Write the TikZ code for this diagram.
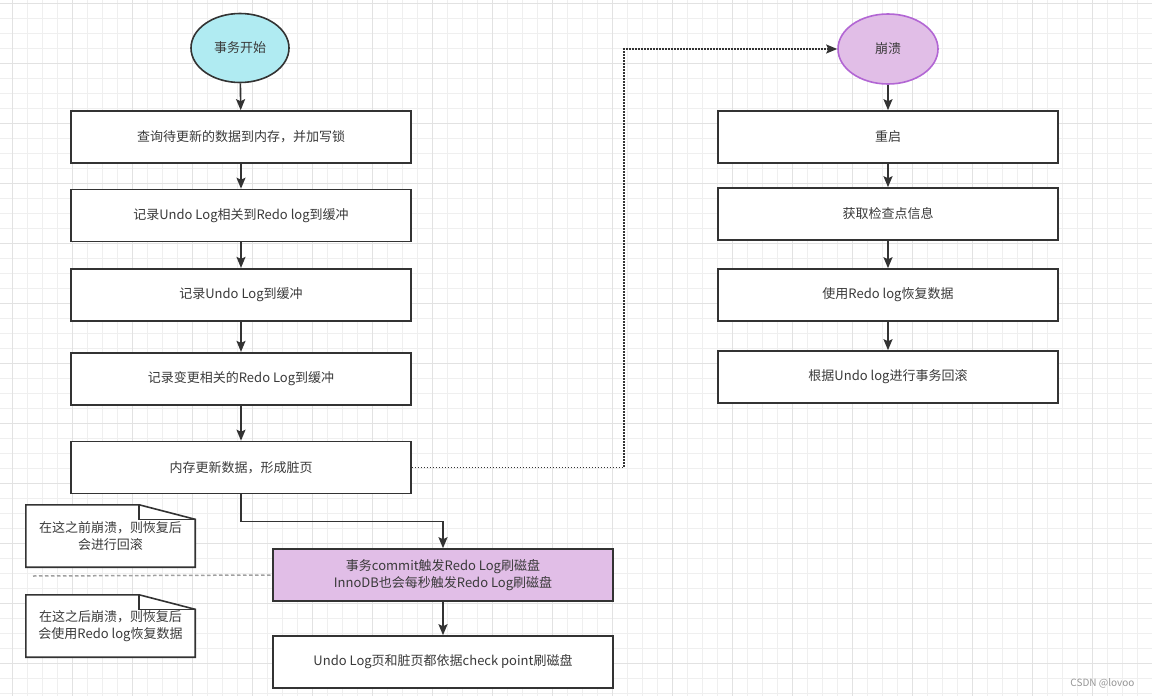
\documentclass[tikz,border=0pt]{standalone}
\usepackage{fontspec}
\setmainfont{Noto Sans CJK SC}
\usetikzlibrary{arrows.meta,shapes.geometric}
\definecolor{ln}{HTML}{333333}
\definecolor{txt}{HTML}{3A3A3A}
\definecolor{cyanfill}{HTML}{B0EBF2}
\definecolor{purfill}{HTML}{E1BEE7}
\definecolor{purline}{HTML}{B266D4}
\definecolor{gmin}{HTML}{EFEFEF}
\definecolor{gmaj}{HTML}{E2E2E2}
\newcommand{\fs}{\fontsize{13}{16.5}\selectfont}
\tikzset{
  stepbox/.style={draw=ln, line width=1.6pt, fill=white, minimum width=340pt, minimum height=52pt, inner sep=0pt, font=\fs, text=txt, align=center},
  startell/.style={ellipse, draw=ln, line width=1.6pt, fill=cyanfill, minimum width=98pt, minimum height=69pt, inner sep=0pt, font=\fs, text=txt},
  crashell/.style={ellipse, draw=purline, line width=1.6pt, fill=purfill, minimum width=100pt, minimum height=70pt, inner sep=0pt, font=\fs, text=txt},
  notebox/.style={minimum width=169pt, minimum height=62pt, inner sep=0pt, font=\fs, text=txt, align=center},
  arr/.style={draw=ln, line width=1.6pt, -{Stealth[length=11pt,width=9pt,inset=2pt]}},
  dotarr/.style={draw=ln, line width=1.6pt, dash pattern=on 1.5pt off 1.5pt, -{Stealth[length=11pt,width=9pt,inset=2pt]}},
  notepath/.style={draw=ln, line width=1.6pt, fill=white},
}
\begin{document}
\begin{tikzpicture}[x=1pt,y=-1pt]
\useasboundingbox (0,0) rectangle (1152,696);
\fill[white] (0,0) rectangle (1152,696);
% grid
\foreach \i in {0,...,77} {\draw[gmin, line width=0.8pt] ({-2.3+15*\i},0) -- ({-2.3+15*\i},696);}
\foreach \j in {0,...,46} {\draw[gmin, line width=0.8pt] (0,{3.3+15*\j}) -- (1152,{3.3+15*\j});}
\foreach \i in {0,...,19} {\draw[gmaj, line width=0.9pt] ({12.7+60*\i},0) -- ({12.7+60*\i},696);}
\foreach \j in {0,...,11} {\draw[gmaj, line width=0.9pt] (0,{3.3+60*\j}) -- (1152,{3.3+60*\j});}

% left column
\node[startell] (start) at (240,48) {事务开始};
\node[stepbox] (b1) at (241,137) {查询待更新的数据到内存，并加写锁};
\node[stepbox] (b2) at (241,215.5) {记录Undo Log相关到Redo log到缓冲};
\node[stepbox] (b3) at (241,294.7) {记录Undo Log到缓冲};
\node[stepbox] (b4) at (241,378.7) {记录变更相关的Redo Log到缓冲};
\node[stepbox] (b5) at (241,467.5) {内存更新数据，形成脏页};
\node[stepbox, fill=purfill] (b6) at (443,575) {事务commit触发Redo Log刷磁盘\\InnoDB也会每秒触发Redo Log刷磁盘};
\node[stepbox] (b7) at (443,662) {Undo Log页和脏页都依据check point刷磁盘};

% right column
\node[crashell] (crash) at (888,49) {崩溃};
\node[stepbox] (r1) at (888,137) {重启};
\node[stepbox] (r2) at (888,214) {获取检查点信息};
\node[stepbox] (r3) at (888,295) {使用Redo log恢复数据};
\node[stepbox] (r4) at (888,377) {根据Undo log进行事务回滚};

% notes
\node[notebox] (n1) at (110.5,536) {};
\node[notebox] (n2) at (110.5,626) {};
\path[notepath] (n1.south west) -- (n1.north west) -- ([xshift=-56pt]n1.north east) -- ([yshift=-14.5pt]n1.north east) -- (n1.south east) -- cycle;
\draw[ln, line width=1.6pt] ([xshift=-56pt]n1.north east) |- ([yshift=-14.5pt]n1.north east);
\node[notebox] (n1t) at (n1) {在这之前崩溃，则恢复后\\会进行回滚};
\path[notepath] (n2.south west) -- (n2.north west) -- ([xshift=-56pt]n2.north east) -- ([yshift=-14.5pt]n2.north east) -- (n2.south east) -- cycle;
\draw[ln, line width=1.6pt] ([xshift=-56pt]n2.north east) |- ([yshift=-14.5pt]n2.north east);
\node[notebox] (n2t) at (n2) {在这之后崩溃，则恢复后\\会使用Redo log恢复数据};

% dashed separator
\coordinate (dsep) at (33,576);
\draw[color={rgb,255:red,160;green,160;blue,160}, line width=1.5pt, dash pattern=on 3.5pt off 2.5pt] (dsep) -- (b6.west);

% connectors
\draw[arr] (start) -- (b1);
\draw[arr] (b1) -- (b2);
\draw[arr] (b2) -- (b3);
\draw[arr] (b3) -- (b4);
\draw[arr] (b4) -- (b5);
\draw[arr] (b5.south) -- ++(0,27) -| (b6.north);
\draw[arr] (b6) -- (b7);
\draw[arr] (crash) -- (r1);
\draw[arr] (r1) -- (r2);
\draw[arr] (r2) -- (r3);
\draw[arr] (r3) -- (r4);
\coordinate (turn) at (624,49);
\draw[dotarr] (b5.east) -| (turn) -- (crash.west);

% watermark
\node[font=\fontsize{10}{12}\selectfont, text={rgb,255:red,150;green,150;blue,150}, anchor=east] (wm) at (1138,683) {CSDN @lovoo};
\end{tikzpicture}
\end{document}
